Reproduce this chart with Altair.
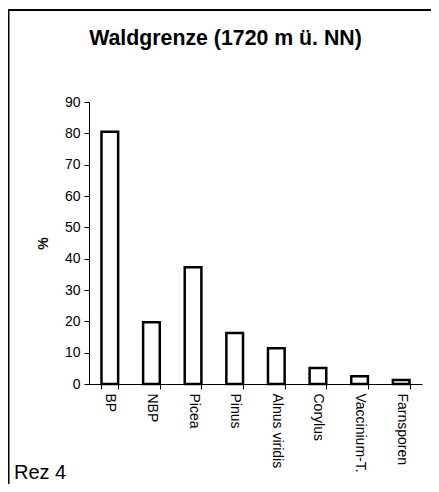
import altair as alt
import pandas as pd

categories = ["BP", "NBP", "Picea", "Pinus", "Alnus viridis", "Corylus", "Vaccinium-T.", "Farnsporen"]
values = [80.5, 19.7, 37.3, 16.3, 11.4, 5.1, 2.5, 1.3]
y_ticks = [0, 10, 20, 30, 40, 50, 60, 70, 80, 90]

df = pd.DataFrame({"cat": categories, "val": values})
FONT = "Liberation Sans"

bars = alt.Chart(df).mark_bar(fill="white", stroke="black", strokeWidth=2.5).encode(
    x=alt.X("cat:N", sort=categories, title=None,
            scale=alt.Scale(paddingInner=0.6, paddingOuter=0.3),
            axis=alt.Axis(labelAngle=90, labelAlign="left", labelBaseline="middle",
                          labelPadding=4, tickBand="extent", tickSize=5,
                          labelFont=FONT, labelFontSize=14, labelColor="black",
                          domainColor="black", tickColor="black", grid=False)),
    y=alt.Y("val:Q", title="%",
            scale=alt.Scale(domain=[0, 90], nice=False),
            axis=alt.Axis(values=y_ticks, tickSize=5, labelPadding=4, grid=False,
                          labelFont=FONT, labelFontSize=14, labelColor="black",
                          domainColor="black", tickColor="black",
                          titleFont=FONT, titleFontSize=14, titleFontWeight="bold",
                          titleColor="black", titleX=-46, titleY=141,
                          titleAlign="center", titleBaseline="middle")),
)

dummy = alt.Data(values=[{}])
left_line = alt.Chart(dummy).mark_rule(color="black", strokeWidth=2).encode(
    x=alt.value(-80.5), y=alt.value(-92), y2=alt.value(420))
top_line = alt.Chart(dummy).mark_rule(color="black", strokeWidth=2).encode(
    x=alt.value(-81.5), x2=alt.value(400), y=alt.value(-92))
title = alt.Chart(dummy).mark_text(text="Waldgrenze (1720 m ü. NN)", font=FONT, fontSize=21.3,
                                   fontWeight="bold", align="center", baseline="alphabetic",
                                   color="black").encode(
    x=alt.value(136.5), y=alt.value(-57))
rez = alt.Chart(dummy).mark_text(text="Rez 4", font=FONT, fontSize=20, align="left",
                                 baseline="alphabetic", color="black").encode(
    x=alt.value(-75), y=alt.value(377))

chart = alt.layer(bars, left_line, top_line, title, rez).properties(
    width=333, height=282,
    autosize=alt.AutoSizeParams(type="none"),
    padding={"left": 81, "top": 94, "right": 9, "bottom": 100},
).configure(background="white",
            view=alt.ViewConfig(stroke="transparent", strokeWidth=0),
            style={"cell": {"stroke": "transparent", "strokeWidth": 0}})

chart.save("out.html", embed_options={"renderer": "svg", "actions": False})
